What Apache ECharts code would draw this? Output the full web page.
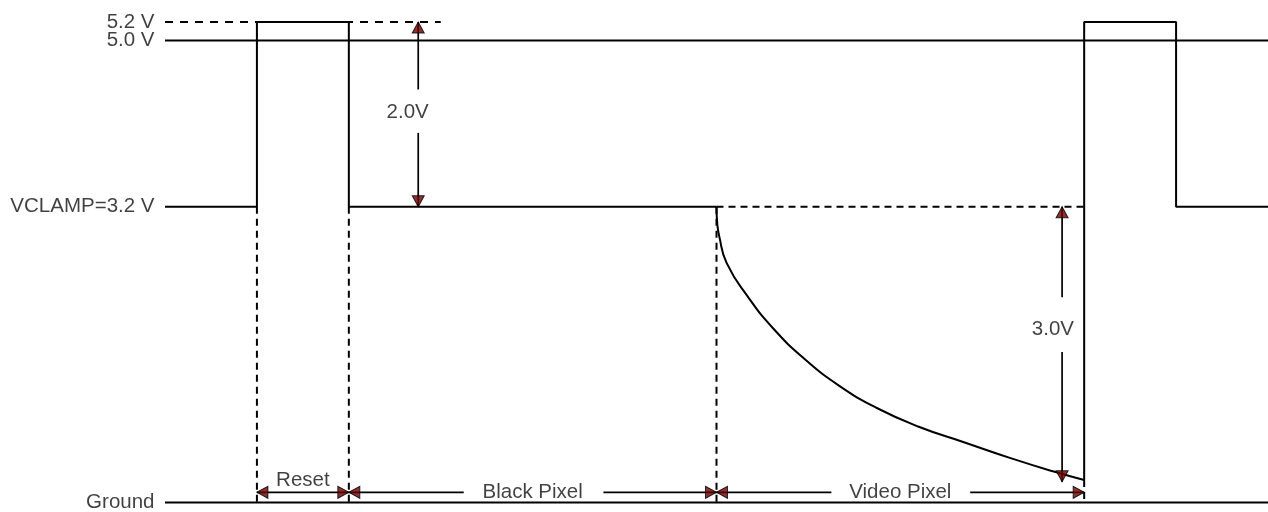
<!DOCTYPE html>
<html>
<head>
<meta charset="utf-8">
<script src="https://cdn.jsdelivr.net/npm/echarts@6/dist/echarts.min.js"></script>
<style>
  html, body { margin: 0; padding: 0; background: #ffffff; }
  #chart { width: 1268px; height: 512px; }
</style>
</head>
<body>
<div id="chart"></div>
<script>
// ---- Voltage levels (y) and their labels ----
const levelValues = [0, 3.2, 5.0, 5.2];
const levelLabels = ['Ground', 'VCLAMP=3.2 V', '5.0 V', '5.2 V'];

// ---- Time axis (arbitrary units; 1 unit = one reset width) ----
const timeMin = 0;
const timeMax = 12;

// ---- Signal: step part before the video pixel ----
const preT = [0, 1, 1, 2, 2, 6];
const preV = [3.2, 3.2, 5.2, 5.2, 3.2, 3.2];

// ---- Signal: video pixel decay curve ----
const curveT = [6.0, 6.008, 6.03, 6.111, 6.346, 6.62, 6.95, 7.34, 7.75, 8.20, 8.70, 9.20, 9.65, 10.0];
const curveV = [3.2, 3.02, 2.88, 2.59, 2.22, 1.88, 1.56, 1.26, 1.02, 0.82, 0.65, 0.48, 0.34, 0.243];

// ---- Signal: next reset pulse ----
const postT = [10, 10, 11, 11, 12];
const postV = [0.243, 5.2, 5.2, 3.2, 3.2];

// ---- Reference dashed levels ----
const dashed52T = [0, 3];          // 5.2 V dashed reference
const dashed32T = [6, 10];         // 3.2 V dashed reference during video pixel
const boundaryT = [1, 2, 6, 10];   // dashed vertical boundaries
const boundaryTopV = [3.2, 3.2, 3.2, 0.243];

// ---- Dimension arrows ----
const dimY = 0.11;                 // level of horizontal dimension arrows
const amp20T = 2.755;              // 2.0V dimension
const amp20Gap = [4.0, 4.47];
const amp30T = 9.76;               // 3.0V dimension
const amp30Gap = [1.63, 2.22];
const amp30Bottom = 0.225;
const blackGap = [3.25, 4.77];
const videoGap = [7.25, 8.76];

// ---- Annotation texts ----
const dimTexts = ['2.0V', '3.0V', 'Reset', 'Black Pixel', 'Video Pixel'];
const dimTextT = [2.64, 9.66, 1.5, 4.0, 8.0];
const dimTextV = [4.225, 1.877, 0.236, 0.11, 0.11];

// ---- Arrowheads: [t, v, direction] ----
const arrowHeads = [
  [amp20T, 5.2, 'up'], [amp20T, 3.2, 'down'],
  [amp30T, 3.2, 'up'], [amp30T, amp30Bottom, 'down'],
  [1, dimY, 'left'], [2, dimY, 'right'],
  [2, dimY, 'left'], [6, dimY, 'right'],
  [6, dimY, 'left'], [10, dimY, 'right']
];

const FONT = "'Liberation Sans', Arial, Helvetica, sans-serif";
const TEXT_COLOR = '#111';
const FONT_SIZE = 20.5;
const zip = (a, b) => a.map((x, i) => [x, b[i]]);

function seg(data, dash, width) {
  return {
    type: 'line', data: data, symbol: 'none', silent: true, clip: false,
    animation: false, z: 2,
    lineStyle: { color: '#000', width: width || 2, type: dash || 'solid', cap: 'butt' }
  };
}

const series = [];
// solid reference lines
series.push(seg([[timeMin, 5.0], [timeMax, 5.0]]));
series.push(seg([[timeMin, 0], [timeMax, 0]]));
// dashed references
series.push(seg([[dashed52T[0], 5.2], [dashed52T[1], 5.2]], [8, 7]));
series.push(seg([[dashed32T[0], 3.2], [dashed32T[1], 3.2]], [7, 5]));
boundaryT.forEach((t, i) => series.push(seg([[t, boundaryTopV[i]], [t, 0]], [7, 5])));
// signal
series.push(seg(zip(preT, preV)));
series.push(Object.assign(seg(zip(curveT, curveV)), { smooth: 0.5 }));
series.push(seg(zip(postT, postV)));
// vertical dimension shafts
series.push(seg([[amp20T, 5.2], [amp20T, amp20Gap[1]]], null, 1.7));
series.push(seg([[amp20T, amp20Gap[0]], [amp20T, 3.2]], null, 1.7));
series.push(seg([[amp30T, 3.2], [amp30T, amp30Gap[1]]], null, 1.7));
series.push(seg([[amp30T, amp30Gap[0]], [amp30T, amp30Bottom]], null, 1.7));
// horizontal dimension shafts
series.push(seg([[1, dimY], [2, dimY]], null, 1.7));
series.push(seg([[2, dimY], [blackGap[0], dimY]], null, 1.7));
series.push(seg([[blackGap[1], dimY], [6, dimY]], null, 1.7));
series.push(seg([[6, dimY], [videoGap[0], dimY]], null, 1.7));
series.push(seg([[videoGap[1], dimY], [10, dimY]], null, 1.7));

// arrowheads
const headW = 12, headL = 11;
const rot = { up: 0, down: 180, left: 90, right: -90 };
const off = {
  up: [0, headL / 2], down: [0, -headL / 2],
  left: [headL / 2, 0], right: [-headL / 2, 0]
};
series.push({
  type: 'scatter', silent: true, animation: false, z: 5,
  symbol: 'triangle', symbolSize: [headW, headL],
  itemStyle: { color: '#6e0000', borderColor: '#000', borderWidth: 1 },
  data: arrowHeads.map(a => ({
    value: [a[0], a[1]],
    symbolRotate: rot[a[2]],
    symbolOffset: off[a[2]]
  }))
});

// left level labels
series.push({
  type: 'scatter', silent: true, animation: false, z: 6,
  symbolSize: 1, itemStyle: { color: 'rgba(0,0,0,0)' },
  data: levelValues.map(v => [timeMin, v]),
  label: {
    show: true, position: 'left', distance: 10,
    formatter: p => levelLabels[p.dataIndex],
    fontSize: FONT_SIZE, color: TEXT_COLOR, fontFamily: FONT
  }
});

// annotation texts
series.push({
  type: 'scatter', silent: true, animation: false, z: 6,
  symbolSize: 1, itemStyle: { color: 'rgba(0,0,0,0)' },
  data: dimTextT.map((t, i) => [t, dimTextV[i]]),
  label: {
    show: true, position: 'inside',
    formatter: p => dimTexts[p.dataIndex],
    fontSize: FONT_SIZE, color: TEXT_COLOR, fontFamily: FONT
  }
});

const chart = echarts.init(document.getElementById('chart'), null, { renderer: 'canvas' });
chart.setOption({
  backgroundColor: '#ffffff',
  animation: false,
  grid: { left: 165, right: 0, top: 22, bottom: 9.5, containLabel: false },
  xAxis: { type: 'value', min: timeMin, max: timeMax, show: false },
  yAxis: { type: 'value', min: 0, max: 5.2, show: false },
  series: series
});
</script>
</body>
</html>
